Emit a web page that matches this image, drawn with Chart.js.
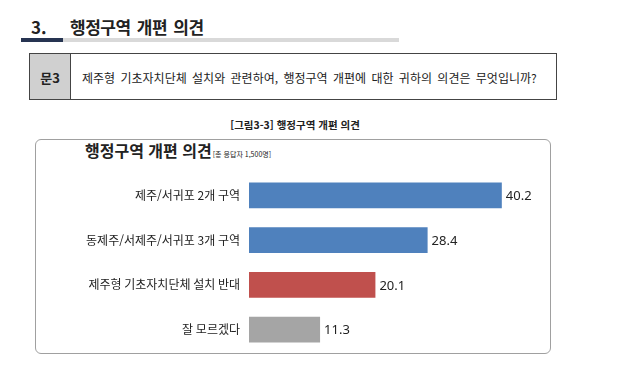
<!DOCTYPE html>
<html lang="ko">
<head>
<meta charset="utf-8">
<script src="https://cdn.jsdelivr.net/npm/chart.js@4"></script>
<style>
  html, body { margin: 0; padding: 0; background: #fff; }
  body { width: 623px; height: 373px; position: relative; overflow: hidden;
         font-family: "Noto Sans CJK KR", "Noto Sans", sans-serif; color: #222; }
  .abs { position: absolute; white-space: nowrap; }
  #secNum { left: 31px; top: 16px; font-size: 17px; font-weight: bold; line-height: 22px; }
  #secTitle { left: 70px; top: 16px; font-size: 17px; font-weight: bold; line-height: 22px; letter-spacing: -0.5px; word-spacing: 2px; }
  #lineDark { left: 21px; top: 38px; width: 42px; height: 4px; background: #263451; }
  #lineGray { left: 63px; top: 38px; width: 336px; height: 4px; background: #d9d9d9; }
  #qbox { left: 29px; top: 53px; width: 526px; height: 45px; border: 1.5px solid #444; }
  #qnum { position: absolute; left: 0; top: 0; width: 40px; height: 45px; background: #d0d0d0;
          border-right: 1.5px solid #444; font-size: 13px; font-weight: bold; line-height: 47px; text-align: center; }
  #qtext { position: absolute; left: 52px; top: 0; height: 45px; line-height: 47px; font-size: 12px; word-spacing: 2px; }
  #caption { left: 0; width: 590px; top: 117px; text-align: center; font-size: 10.5px; font-weight: bold; line-height: 16px; }
  #box { left: 35px; top: 139px; width: 514px; height: 213px; border: 1px solid #a0a0a0; border-radius: 6px; }
  #title { left: 85px; top: 140px; font-size: 16px; font-weight: bold; line-height: 21px; }
  #title small { font-size: 7px; font-weight: normal; margin-left: 1px; }
  #wrap { position: absolute; left: 35px; top: 139px; width: 516px; height: 215px; }
</style>
</head>
<body>
<div class="abs" id="secNum">3.</div>
<div class="abs" id="secTitle">행정구역 개편 의견</div>
<div class="abs" id="lineDark"></div>
<div class="abs" id="lineGray"></div>
<div class="abs" id="qbox">
  <div id="qnum">문3</div>
  <div id="qtext">제주형 기초자치단체 설치와 관련하여, 행정구역 개편에 대한 귀하의 의견은 무엇입니까?</div>
</div>
<div class="abs" id="caption">[그림3-3] 행정구역 개편 의견</div>
<div class="abs" id="box"></div>
<div class="abs" id="title">행정구역 개편 의견<small>[총 응답자 1,500명]</small></div>
<div id="wrap"><canvas id="chartOpinion" width="516" height="215"></canvas></div>

<script>
const categories = [
  "제주/서귀포 2개 구역",
  "동제주/서제주/서귀포 3개 구역",
  "제주형 기초자치단체 설치 반대",
  "잘 모르겠다"
];
const percentValues = [40.2, 28.4, 20.1, 11.3];
const barColors = ["#4f81bd", "#4f81bd", "#c0504d", "#a5a5a5"];

// 막대 끝에 값 표시
const valueLabels = {
  id: "valueLabels",
  afterDatasetsDraw(chart) {
    const ctx = chart.ctx;
    const meta = chart.getDatasetMeta(0);
    ctx.save();
    ctx.font = '13px "Noto Sans", sans-serif';
    ctx.fillStyle = "#222";
    ctx.textAlign = "left";
    ctx.textBaseline = "middle";
    meta.data.forEach(function (bar, i) {
      ctx.fillText(percentValues[i].toFixed(1), bar.x + 4, bar.y + 1);
    });
    ctx.restore();
  }
};

document.addEventListener("DOMContentLoaded", function () {
  const canvas = document.getElementById("chartOpinion");
  new Chart(canvas, {
    type: "bar",
    data: {
      labels: categories,
      datasets: [{
        data: percentValues,
        backgroundColor: barColors,
        categoryPercentage: 1,
        barPercentage: 0.58
      }]
    },
    options: {
      indexAxis: "y",
      responsive: false,
      animation: false,
      layout: { padding: { top: 34, right: 19, bottom: 2, left: 0 } },
      plugins: {
        legend: { display: false },
        tooltip: { enabled: false }
      },
      scales: {
        x: { display: false, min: 0, max: 45 },
        y: {
          grid: { display: false, drawTicks: false },
          border: { display: false },
          ticks: {
            padding: 9,
            color: "#222",
            font: { family: '"Noto Sans CJK KR", sans-serif', size: 12 }
          },
          afterFit: function (scale) {
            scale.width = 214;
            scale.paddingTop = 0;
            scale.paddingBottom = 0;
          }
        }
      }
    },
    plugins: [valueLabels]
  });
});
</script>
</body>
</html>
